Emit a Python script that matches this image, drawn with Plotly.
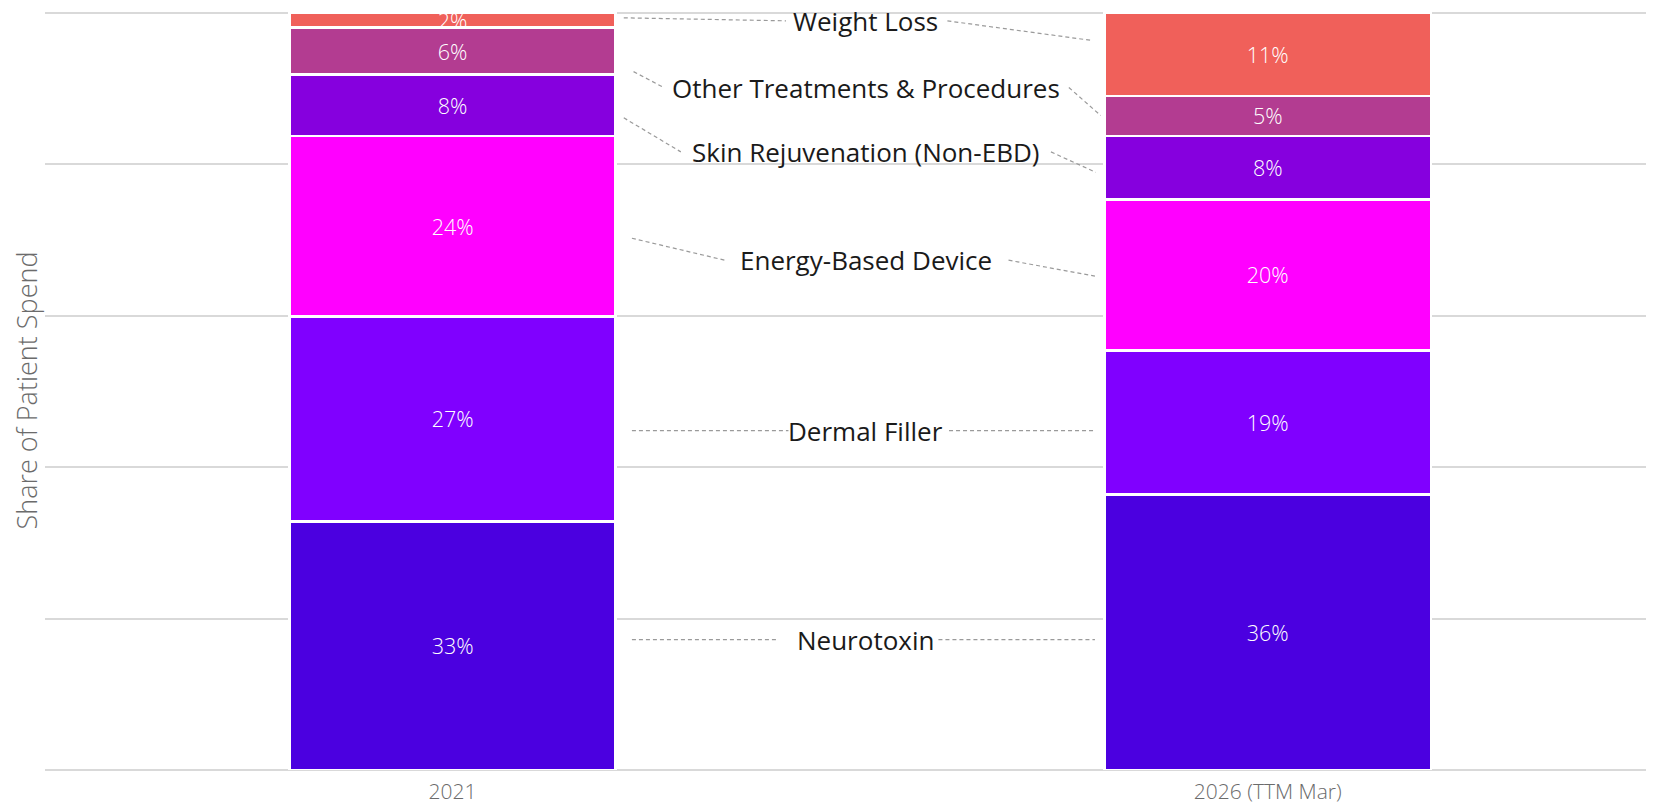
import plotly.graph_objects as go

# ---- data ----
periods = ["2021", "2026 (TTM Mar)"]
segments = [
    "Neurotoxin",
    "Dermal Filler",
    "Energy-Based Device",
    "Skin Rejuvenation (Non-EBD)",
    "Other Treatments & Procedures",
    "Weight Loss",
]
share_2021 = [32.8, 27.1, 23.8, 8.1, 6.2, 2.0]
share_2026 = [36.4, 19.0, 19.9, 8.4, 5.3, 11.0]
labels_2021 = ["33%", "27%", "24%", "8%", "6%", "2%"]
labels_2026 = ["36%", "19%", "20%", "8%", "5%", "11%"]

# ---- styles ----
colors = ["#4b00e0", "#8000ff", "#ff00ff", "#8600de", "#b33c91", "#f0605a"]
FONT = "Open Sans"

# ---- label / connector layout (data units: x = category index, y = percent) ----
label_x = 0.507
label_y = [17.2, 44.8, 67.3, 81.6, 90.1, 98.9]
left_start = [(0.220, 17.2), (0.220, 44.8), (0.220, 70.2), (0.210, 86.1), (0.222, 92.2), (0.210, 99.3)]
left_end_x = [0.399, 0.412, 0.334, 0.280, 0.259, 0.409]
right_start_x = [0.596, 0.609, 0.682, 0.734, 0.756, 0.607]
right_end = [(0.788, 17.2), (0.788, 44.8), (0.788, 65.2), (0.789, 78.9), (0.795, 86.4), (0.785, 96.3)]

fig = go.Figure()
for i, name in enumerate(segments):
    fig.add_trace(go.Bar(
        name=name,
        x=periods,
        y=[share_2021[i], share_2026[i]],
        text=[labels_2021[i], labels_2026[i]],
        texttemplate="%{text}",
        textposition="inside",
        insidetextanchor="middle",
        constraintext="none",
        textangle=0,
        textfont=dict(family=FONT, size=21.5, color="white", weight=300),
        marker=dict(color=colors[i], line=dict(color="white", width=2.5)),
        width=0.4,
        showlegend=False,
        hoverinfo="name+y",
    ))

shapes = []
annotations = []
line_style = dict(color="#9a9a9a", width=1.2, dash="4px,3px")
for i, name in enumerate(segments):
    x0, y0 = left_start[i]
    shapes.append(dict(type="line", xref="x", yref="y", x0=x0, y0=y0,
                       x1=left_end_x[i], y1=label_y[i], line=line_style, layer="above"))
    x1, y1 = right_end[i]
    shapes.append(dict(type="line", xref="x", yref="y", x0=right_start_x[i], y0=label_y[i],
                       x1=x1, y1=y1, line=line_style, layer="above"))
    annotations.append(dict(x=label_x, y=label_y[i], xref="x", yref="y", text=name,
                            showarrow=False, font=dict(family=FONT, size=26, color="#1a1a1a"),
                            xanchor="center", yanchor="middle"))

# page body has an 8px margin: size the figure so the page fits the window exactly
fig.update_layout(
    barmode="stack",
    width=1638,
    height=796,
    margin=dict(l=37, r=0, t=2.5, b=34, autoexpand=False),
    paper_bgcolor="white",
    plot_bgcolor="white",
    font=dict(family=FONT),
    shapes=shapes,
    annotations=annotations,
    xaxis=dict(
        type="category",
        range=[-0.5, 1.464],
        automargin=False,
        showgrid=False,
        showline=False,
        ticks="",
        ticklabelstandoff=7,
        tickfont=dict(family=FONT, size=21, color="#6b6b6b", weight=300),
    ),
    yaxis=dict(
        range=[0, 100.2],
        automargin=False,
        tick0=0,
        dtick=20,
        showgrid=True,
        gridcolor="#d9d9d9",
        gridwidth=2,
        zeroline=True,
        zerolinecolor="#d9d9d9",
        zerolinewidth=2,
        showticklabels=False,
        title=dict(text="Share of Patient Spend", standoff=4,
                   font=dict(family=FONT, size=27, color="#6b6b6b", weight=300)),
    ),
)

fig.write_html("out.html")
